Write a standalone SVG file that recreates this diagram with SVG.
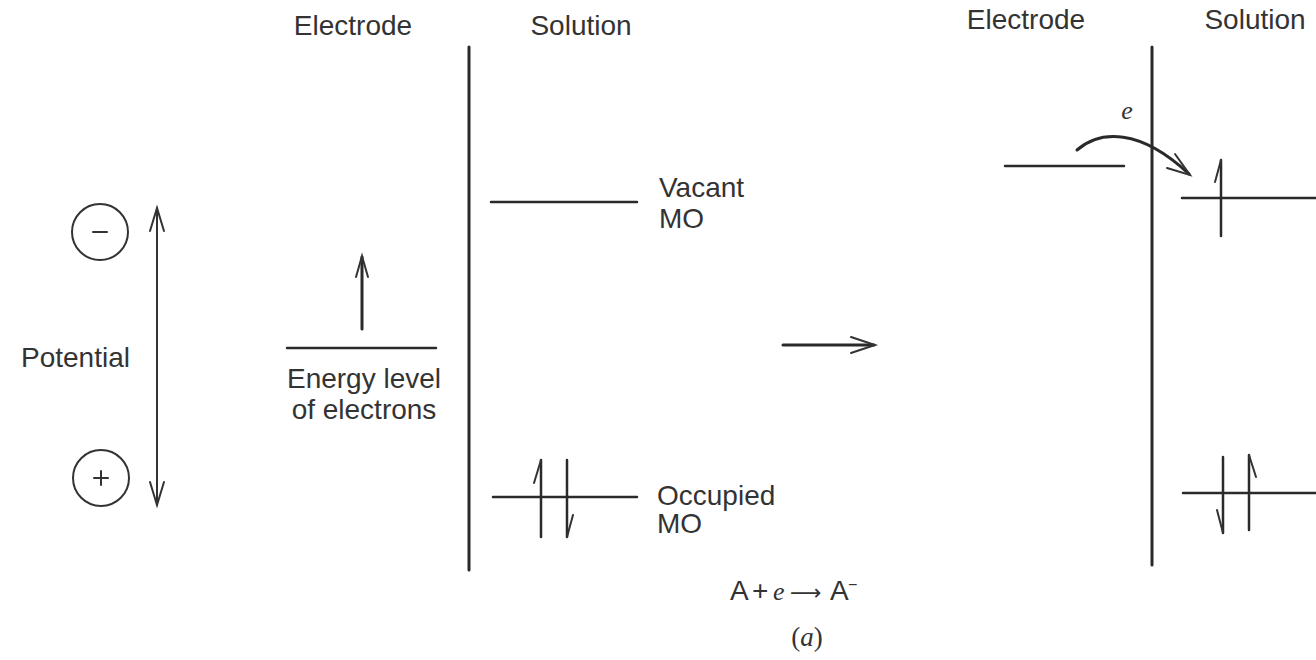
<svg xmlns="http://www.w3.org/2000/svg" width="1316" height="660" viewBox="0 0 1316 660">
<style>
.t{font-family:"Liberation Sans",Arial,sans-serif;font-size:28px;fill:#333;}
.s{font-family:"Liberation Serif","Times New Roman",serif;font-style:italic;fill:#333;}
.ln{stroke:#2a2a2a;stroke-width:2.5;fill:none;stroke-linecap:round;}
.thin{stroke:#333;stroke-width:2;fill:none;stroke-linecap:round;}
.thick{stroke:#2a2a2a;stroke-width:3;fill:none;stroke-linecap:round;}
</style>
<rect width="1316" height="660" fill="#fff"/>
<g id="headers">
<text class="t" x="353" y="35" text-anchor="middle">Electrode</text>
<text class="t" x="581" y="35" text-anchor="middle">Solution</text>
<text class="t" x="1026" y="29" text-anchor="middle">Electrode</text>
<text class="t" x="1255" y="29" text-anchor="middle">Solution</text>
</g>
<g id="potential">
<circle cx="100" cy="232" r="28" class="thin"/>
<line x1="93" y1="232" x2="107" y2="232" class="thin"/>
<circle cx="101" cy="478" r="28" class="thin"/>
<line x1="94" y1="478" x2="108" y2="478" class="thin" stroke-width="1.5"/>
<line x1="101" y1="471" x2="101" y2="485" class="thin" stroke-width="1.5"/>
<text class="t" x="21" y="367">Potential</text>
<line x1="157" y1="208" x2="157" y2="505" class="thin"/>
<polyline points="150,231 157,208 164,231" class="thin"/>
<polyline points="150,482 157,505 164,482" class="thin"/>
</g>
<g id="electrode-left">
<line x1="287" y1="348" x2="436" y2="348" class="ln"/>
<line x1="362" y1="329" x2="362" y2="257" class="thick"/>
<polyline points="356,277 362,256 368,277" class="thin"/>
<text class="t" x="364" y="388" text-anchor="middle">Energy level</text>
<text class="t" x="364" y="419" text-anchor="middle">of electrons</text>
</g>
<g id="interface">
<line x1="469" y1="47" x2="469" y2="570" class="thick"/>
<line x1="1152" y1="47" x2="1152" y2="565" class="thick"/>
</g>
<g id="vacant-left">
<line x1="491" y1="202" x2="637" y2="202" class="ln"/>
<text class="t" x="659" y="197">Vacant</text>
<text class="t" x="659" y="228">MO</text>
</g>
<g id="occupied-left">
<line x1="493" y1="497" x2="637" y2="497" class="ln"/>
<line x1="541" y1="460" x2="541" y2="537" class="ln"/>
<line x1="541" y1="460" x2="534" y2="483" class="thin"/>
<line x1="567" y1="460" x2="567" y2="537" class="ln"/>
<line x1="567" y1="537" x2="573" y2="515" class="thin"/>
<text class="t" x="657" y="505">Occupied</text>
<text class="t" x="657" y="533">MO</text>
</g>
<g id="connectors">
<line x1="783" y1="345" x2="874" y2="345" class="thick"/>
<polyline points="851,337 875,345 851,353" class="thin" stroke-width="2.5"/>
<path d="M1077,150 C1100,130 1140,128 1189,174" class="thick"/>
<polyline points="1175,154 1190,175 1167,168" class="thin"/>
</g>
<g id="electrode-right">
<line x1="1005" y1="166" x2="1124" y2="166" class="ln"/>
<text class="s" x="1127" y="119" font-size="26" text-anchor="middle">e</text>
</g>
<g id="vacant-right">
<line x1="1182" y1="198" x2="1316" y2="198" class="ln"/>
<line x1="1221" y1="160" x2="1221" y2="236" class="ln"/>
<line x1="1221" y1="160" x2="1215" y2="182" class="thin"/>
</g>
<g id="occupied-right">
<line x1="1183" y1="493" x2="1316" y2="493" class="ln"/>
<line x1="1223" y1="457" x2="1223" y2="533" class="ln"/>
<line x1="1223" y1="533" x2="1217" y2="510" class="thin"/>
<line x1="1249" y1="455" x2="1249" y2="530" class="ln"/>
<line x1="1249" y1="455" x2="1256" y2="477" class="thin"/>
</g>
<g id="caption">
<text class="t" y="600" font-size="23"><tspan x="730">A</tspan><tspan x="752">+</tspan><tspan x="773" class="s" font-size="26">e</tspan><tspan x="790" style="font-family:'DejaVu Sans',sans-serif;font-size:22px">⟶</tspan><tspan x="830">A</tspan><tspan x="848" dy="-10" font-size="16">−</tspan></text>
<text x="807" y="646" text-anchor="middle" style="font-family:'Liberation Serif','Times New Roman',serif;font-size:27px;fill:#333">(<tspan style="font-style:italic">a</tspan>)</text>
</g>
</svg>
